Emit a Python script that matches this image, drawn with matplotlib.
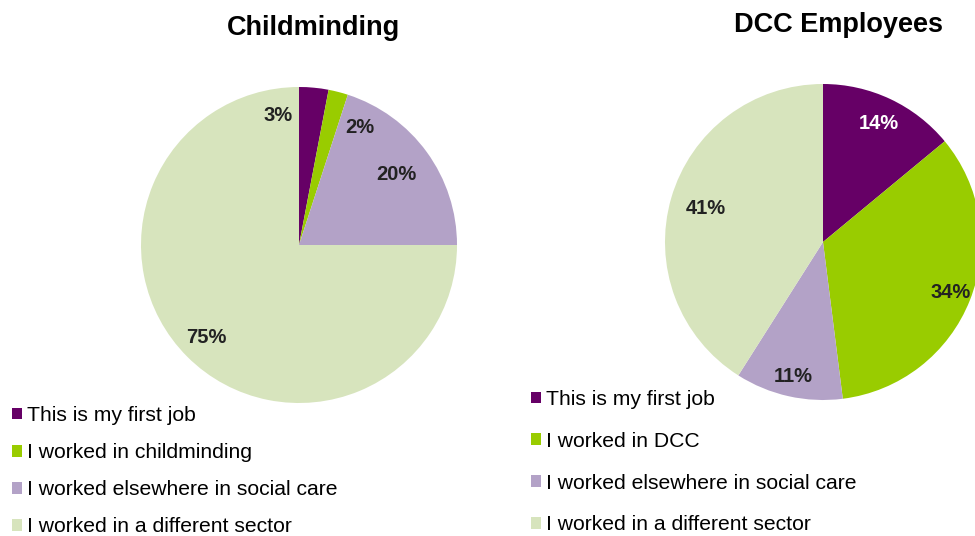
import numpy as np
import matplotlib.pyplot as plt

plt.rcParams['font.family'] = ['Liberation Sans', 'DejaVu Sans']

# data
colors = ['#660066', '#99CC00', '#B3A2C7', '#D7E4BD']
cm_title = 'Childminding'
cm_labels = ['This is my first job', 'I worked in childminding',
             'I worked elsewhere in social care', 'I worked in a different sector']
cm_values = [3, 2, 20, 75]
dcc_title = 'DCC Employees'
dcc_labels = ['This is my first job', 'I worked in DCC',
              'I worked elsewhere in social care', 'I worked in a different sector']
dcc_values = [14, 34, 11, 41]

W, H = 975, 536
R = 158

fig = plt.figure(figsize=(W / 100, H / 100), dpi=100)
ax = fig.add_axes([0, 0, 1, 1])


def draw_pie(values, center, shifts, dists, txt_colors):
    wedges, _, pcts = ax.pie(values, colors=colors, startangle=90, counterclock=False,
                             center=center, radius=R, autopct='%d%%',
                             wedgeprops=dict(linewidth=0),
                             textprops=dict(fontsize=14.5, fontweight='bold'))
    # nudge the labels like excel's "best fit"
    for w, t, s, d, c in zip(wedges, pcts, shifts, dists, txt_colors):
        ang = np.deg2rad((w.theta1 + w.theta2) / 2 + s)
        t.set_position((center[0] + d * R * np.cos(ang), center[1] + d * R * np.sin(ang)))
        t.set_color(c)
    return wedges


cm_wedges = draw_pie(cm_values, (299, H - 245), [14.6, -12.9, 0, 0],
                     [0.83, 0.84, 0.76, 0.83], ['#222222'] * 4)
dcc_wedges = draw_pie(dcc_values, (823, H - 242), [0, 0, 0, 0],
                      [0.83, 0.87, 0.87, 0.77], ['white', '#222222', '#222222', '#222222'])

ax.set_xlim(0, W)
ax.set_ylim(0, H)
ax.axis('off')

ax.text(314, H - 28, cm_title, ha='center', va='center', fontsize=19.5, fontweight='bold')
ax.text(838, H - 25, dcc_title, ha='center', va='center', fontsize=19.5, fontweight='bold')

leg_kw = dict(loc='upper left', frameon=False, fontsize=15.2, handlelength=0.48,
              handleheight=0.48, handletextpad=0.22, borderaxespad=0, borderpad=0)
fig.legend(cm_wedges, cm_labels, bbox_to_anchor=(12 / W, 1 - 406 / H),
           labelspacing=0.86, **leg_kw)
fig.legend(dcc_wedges, dcc_labels, bbox_to_anchor=(531 / W, 1 - 390 / H),
           labelspacing=1.08, **leg_kw)

fig.savefig('out.png', dpi=100)
